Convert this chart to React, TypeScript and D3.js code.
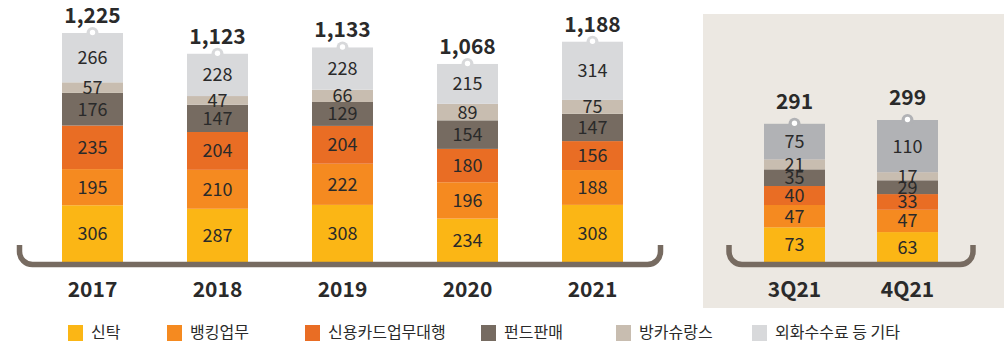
import React from "react";
import * as d3 from "d3";

// Annual and quarterly fee income by business line
const years = ["2017", "2018", "2019", "2020", "2021"];
const quarters = ["3Q21", "4Q21"];

const seriesNames = ["신탁", "뱅킹업무", "신용카드업무대행", "펀드판매", "방카슈랑스", "외화수수료 등 기타"];

const trustYear = [306, 287, 308, 234, 308];
const bankingYear = [195, 210, 222, 196, 188];
const cardYear = [235, 204, 204, 180, 156];
const fundYear = [176, 147, 129, 154, 147];
const bancaYear = [57, 47, 66, 89, 75];
const otherYear = [266, 228, 228, 215, 314];
const totalYear = [1225, 1123, 1133, 1068, 1188];

const trustQ = [73, 63];
const bankingQ = [47, 47];
const cardQ = [40, 33];
const fundQ = [35, 29];
const bancaQ = [21, 17];
const otherQ = [75, 110];
const totalQ = [291, 299];

const colors = ["#fbb615", "#f58a20", "#e96d24", "#766b61", "#c8bdb0", "#d8d9db"];
const otherQColor = "#b1b2b5";
const bracketColor = "#776b61";
const textColor = "#2a2a2a";
const font = "'Noto Sans CJK KR', 'Noto Sans', sans-serif";

const W = 1004;
const H = 342;
const baseY = 262;
const barW = 61;

type Group = {
  cats: string[];
  series: number[][];
  totals: number[];
  x: d3.ScalePoint<string>;
  y: d3.ScaleLinear<number, number>;
  topColor: string;
  totalOffset: number;
};

function buildRows(cats: string[], series: number[][]) {
  return cats.map((c, i) => {
    const row: Record<string, number | string> = { cat: c };
    seriesNames.forEach((s, k) => (row[s] = series[k][i]));
    return row;
  });
}

function Bracket({ x0, x1 }: { x0: number; x1: number }) {
  const r = 13;
  const yb = 264.5;
  const yt = 245;
  const p = d3.path();
  p.moveTo(x0, yt);
  p.lineTo(x0, yb - r);
  p.arcTo(x0, yb, x0 + r, yb, r);
  p.lineTo(x1 - r, yb);
  p.arcTo(x1, yb, x1, yb - r, r);
  p.lineTo(x1, yt);
  return <path d={p.toString()} fill="none" stroke={bracketColor} strokeWidth={5.5} />;
}

function Bars({ g }: { g: Group }) {
  const rows = buildRows(g.cats, g.series);
  const stack = d3.stack<Record<string, number | string>>().keys(seriesNames)(rows as any);
  const fmt = d3.format(",");
  return (
    <g>
      {stack.map((layer, k) => (
        <g key={layer.key}>
          {layer.map((d, i) => {
            const cx = g.x(g.cats[i]) as number;
            const y0 = g.y(d[0]);
            const y1 = g.y(d[1]);
            const fill = k === seriesNames.length - 1 ? g.topColor : colors[k];
            return <rect key={i} x={cx - barW / 2} y={y1} width={barW} height={y0 - y1} fill={fill} />;
          })}
        </g>
      ))}
      {stack.map((layer, k) => (
        <g key={"t" + layer.key}>
          {layer.map((d, i) => {
            const cx = g.x(g.cats[i]) as number;
            const ym = (g.y(d[0]) + g.y(d[1])) / 2;
            return (
              <text
                key={i}
                x={cx}
                y={ym}
                dy="0.36em"
                textAnchor="middle"
                fontSize={18}
                fill={textColor}
                fontFamily={font}
              >
                {g.series[k][i]}
              </text>
            );
          })}
        </g>
      ))}
      {g.cats.map((c, i) => {
        const cx = g.x(c) as number;
        const top = g.y(stack[stack.length - 1][i][1]);
        return (
          <g key={"h" + c}>
            <circle cx={cx} cy={top} r={6} fill={g.topColor} />
            <circle cx={cx} cy={top - 0.5} r={2.7} fill="#ffffff" />
            <text
              x={cx}
              y={top - g.totalOffset}
              textAnchor="middle"
              fontSize={21}
              fontWeight={700}
              fill={textColor}
              fontFamily={font}
            >
              {fmt(g.totals[i])}
            </text>
            <text
              x={cx}
              y={297}
              textAnchor="middle"
              fontSize={21}
              fontWeight={700}
              fill={textColor}
              fontFamily={font}
            >
              {c}
            </text>
          </g>
        );
      })}
    </g>
  );
}

export default function App() {
  const yearSeries = [trustYear, bankingYear, cardYear, fundYear, bancaYear, otherYear];
  const qSeries = [trustQ, bankingQ, cardQ, fundQ, bancaQ, otherQ];

  const yearSums = years.map((_, i) => d3.sum(yearSeries, (s) => s[i]));
  const qSums = quarters.map((_, i) => d3.sum(qSeries, (s) => s[i]));

  const annual: Group = {
    cats: years,
    series: yearSeries,
    totals: totalYear,
    x: d3.scalePoint<string>().domain(years).range([92.5, 592.5]),
    y: d3.scaleLinear().domain([0, d3.max(yearSums) as number]).range([baseY, 33]),
    topColor: colors[5],
    totalOffset: 10,
  };
  const quarterly: Group = {
    cats: quarters,
    series: qSeries,
    totals: totalQ,
    x: d3.scalePoint<string>().domain(quarters).range([794.5, 907.5]),
    y: d3.scaleLinear().domain([0, d3.max(qSums) as number]).range([baseY, 120]),
    topColor: otherQColor,
    totalOffset: 15,
  };

  const legendX = [68, 167, 305, 481, 616, 752];

  return (
    <div style={{ position: "absolute", left: 0, top: 0 }}>
      <svg width={W} height={H} style={{ display: "block" }}>
        <rect x={0} y={0} width={W} height={H} fill="#ffffff" />
        <rect x={703} y={14} width={W - 703} height={294} fill="#ece8e2" />
        <Bars g={annual} />
        <Bars g={quarterly} />
        <Bracket x0={19.5} x1={660.5} />
        <Bracket x0={729} x1={973} />
        {seriesNames.map((s, k) => (
          <g key={s} transform={`translate(${legendX[k]},325)`}>
            <rect x={0} y={0} width={15} height={16} fill={colors[k]} />
            <text x={23} y={13} fontSize={16} fill={textColor} fontFamily={font}>
              {s}
            </text>
          </g>
        ))}
      </svg>
    </div>
  );
}
